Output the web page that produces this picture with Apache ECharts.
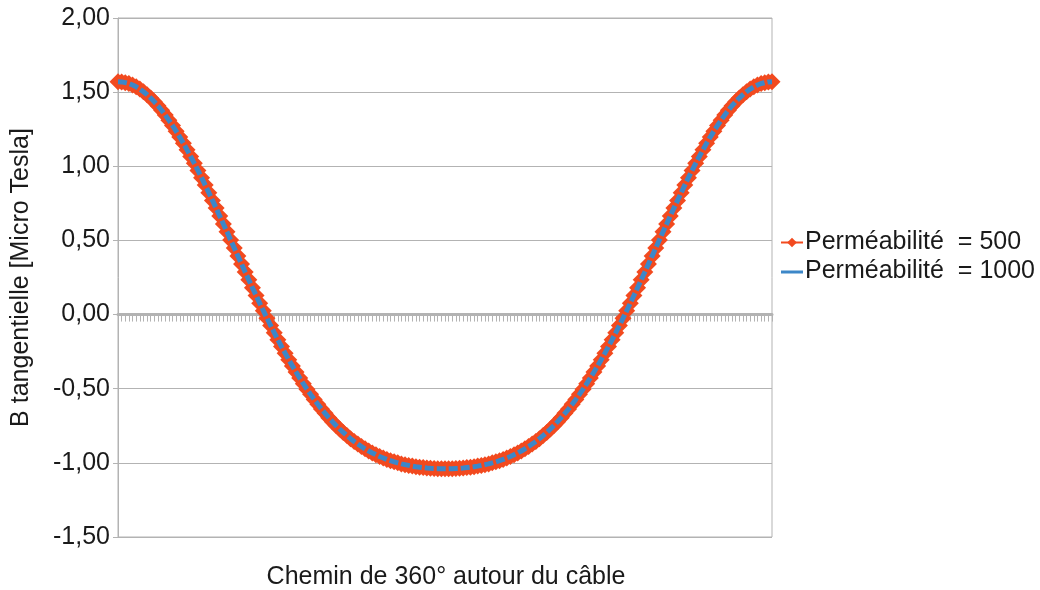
<!DOCTYPE html>
<html>
<head>
<meta charset="utf-8">
<title>B tangentielle</title>
<script src="https://cdn.jsdelivr.net/npm/echarts@6/dist/echarts.min.js"></script>
<style>
  html, body { margin: 0; height: 100%; background: #fff; }
  #main { width: 1040px; height: 590px; }
</style>
</head>
<body>
<div id="main"></div>
<script>
// path around the cable, one point every 2 degrees (0..360)
var angleStep = 2;
var angles = [];
for (var a = 0; a <= 360; a += angleStep) angles.push(a);

// B tangentielle [uT], permeability 500
var perm500 = [
  1.570, 1.569, 1.564, 1.558, 1.548, 1.536, 1.521, 1.503, 1.483, 1.460,
  1.435, 1.408, 1.378, 1.346, 1.311, 1.275, 1.237, 1.197, 1.155, 1.111,
  1.066, 1.020, 0.972, 0.923, 0.873, 0.822, 0.770, 0.718, 0.665, 0.611,
  0.558, 0.503, 0.449, 0.395, 0.341, 0.287, 0.234, 0.181, 0.129, 0.077,
  0.026, -0.024, -0.073, -0.122, -0.169, -0.215, -0.260, -0.304, -0.346, -0.387,
  -0.427, -0.466, -0.503, -0.538, -0.572, -0.605, -0.637, -0.666, -0.695, -0.722,
  -0.748, -0.772, -0.795, -0.816, -0.837, -0.856, -0.873, -0.890, -0.905, -0.920,
  -0.933, -0.945, -0.957, -0.967, -0.977, -0.985, -0.993, -1.000, -1.007, -1.012,
  -1.017, -1.022, -1.026, -1.029, -1.032, -1.035, -1.037, -1.038, -1.039, -1.040,
  -1.040,
  -1.040, -1.039, -1.038, -1.037, -1.035, -1.032, -1.029, -1.026, -1.022, -1.017,
  -1.012, -1.007, -1.000, -0.993, -0.985, -0.977, -0.967, -0.957, -0.945, -0.933,
  -0.920, -0.905, -0.890, -0.873, -0.856, -0.837, -0.816, -0.795, -0.772, -0.748,
  -0.722, -0.695, -0.666, -0.637, -0.605, -0.572, -0.538, -0.503, -0.466, -0.427,
  -0.387, -0.346, -0.304, -0.260, -0.215, -0.169, -0.122, -0.073, -0.024, 0.026,
  0.077, 0.129, 0.181, 0.234, 0.287, 0.341, 0.395, 0.449, 0.503, 0.558,
  0.611, 0.665, 0.718, 0.770, 0.822, 0.873, 0.923, 0.972, 1.020, 1.066,
  1.111, 1.155, 1.197, 1.237, 1.275, 1.311, 1.346, 1.378, 1.408, 1.435,
  1.460, 1.483, 1.503, 1.521, 1.536, 1.548, 1.558, 1.564, 1.569, 1.570
];

// permeability 1000: lies on top of the 500 curve in the picture
var perm1000 = perm500;

var seriesNames = ['Perméabilité  = 500', 'Perméabilité  = 1000'];
var yTicks = { min: -1.5, max: 2, step: 0.5 };

var fontFamily = '"Liberation Sans", Arial, sans-serif';
var fontSize = 25;
var textColor = '#1a1a1a';
var gridColor = '#b3b3b3';

var chart = echarts.init(document.getElementById('main'));

chart.setOption({
  animation: false,
  color: ['#f24a1f', '#3c87c8'],
  textStyle: { fontFamily: fontFamily },
  grid: {
    left: 118,
    right: 268,
    top: 18,
    bottom: 53,
    show: true,
    borderColor: gridColor,
    borderWidth: 1
  },
  legend: {
    orient: 'vertical',
    left: 775,
    top: 225,
    itemWidth: 22,
    itemHeight: 12,
    itemGap: 4,
    textStyle: { fontSize: fontSize, color: textColor, fontFamily: fontFamily, padding: [0, 0, 0, -3] },
    data: [
      { name: seriesNames[0] },
      // plain line in the key, no marker
      { name: seriesNames[1], icon: 'path://M0,0L0,0.01Z M0,5H22V8H0Z M0,12L0,12.01Z' }
    ]
  },
  xAxis: {
    type: 'category',
    data: angles,
    boundaryGap: false,
    axisLine: { onZero: true, lineStyle: { color: gridColor, width: 3 } },
    axisTick: { show: true, interval: 0, length: 7, lineStyle: { color: gridColor, width: 1 } },
    axisLabel: { show: false },
    splitLine: { show: false }
  },
  yAxis: {
    type: 'value',
    min: yTicks.min,
    max: yTicks.max,
    interval: yTicks.step,
    name: 'B tangentielle [Micro Tesla]',
    nameLocation: 'middle',
    nameGap: 84,
    nameTextStyle: { fontSize: fontSize, color: textColor, fontFamily: fontFamily },
    axisLine: { show: true, lineStyle: { color: gridColor } },
    axisTick: { show: true, length: 5, lineStyle: { color: gridColor } },
    axisLabel: {
      fontSize: fontSize,
      color: textColor,
      margin: 8,
      formatter: function (v) { return v.toFixed(2).replace('.', ','); }
    },
    splitLine: { show: true, lineStyle: { color: gridColor, width: 1 } }
  },
  graphic: [{
    type: 'text',
    x: 446,
    y: 565,
    style: {
      text: 'Chemin de 360° autour du câble',
      fontSize: fontSize,
      fontFamily: fontFamily,
      fill: textColor,
      textAlign: 'center'
    }
  }],
  series: [
    {
      name: seriesNames[0],
      type: 'line',
      data: perm500,
      symbol: 'diamond',
      symbolSize: 17,
      showAllSymbol: true,
      lineStyle: { width: 2 },
      z: 2
    },
    {
      name: seriesNames[1],
      type: 'line',
      data: perm1000,
      symbol: 'none',
      lineStyle: { width: 5, type: [9, 3] },
      z: 3
    }
  ]
});
</script>
</body>
</html>
